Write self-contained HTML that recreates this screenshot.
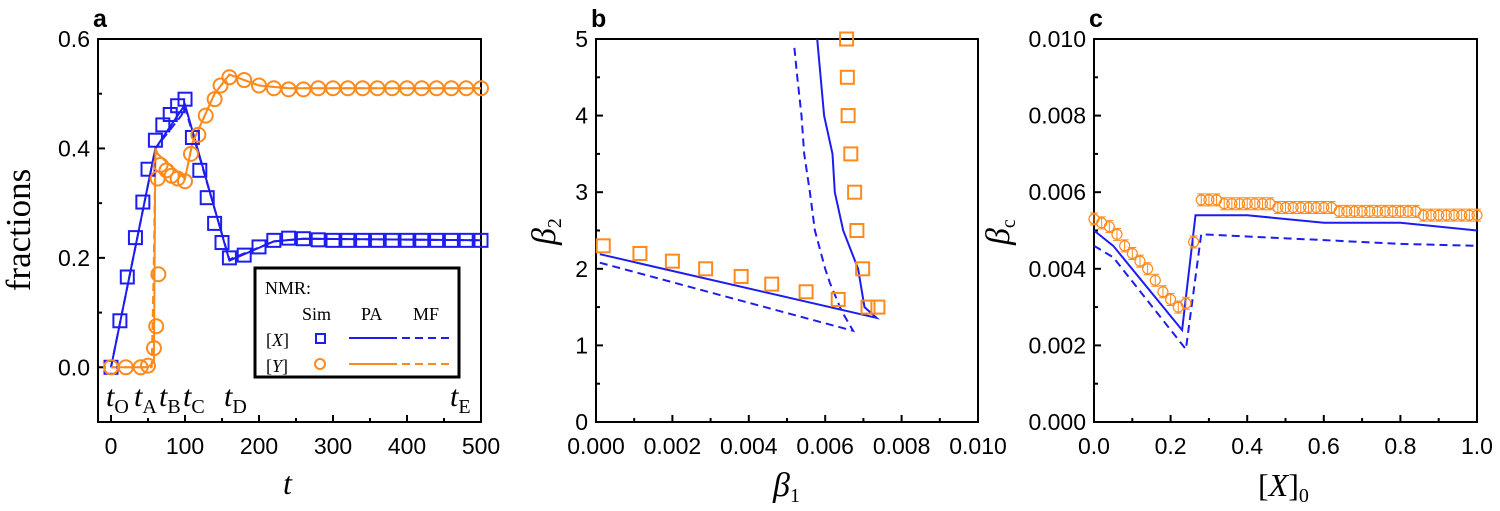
<!DOCTYPE html>
<html><head><meta charset="utf-8"><style>
html,body{margin:0;padding:0;background:#fff;}
svg{display:block;}
.tk{font-family:"Liberation Sans",Arial,sans-serif;fill:#000;}
.ti{font-family:"Liberation Serif","Times New Roman",serif;fill:#000;}
</style></head><body>
<svg id="fig" width="1500" height="511" viewBox="0 0 1500 511" xmlns="http://www.w3.org/2000/svg"></svg>
<script>
// ---- Panel a data ----
const aXSimT=[0,12,22,33,43,50,60,70,80,90,100,110,120,130,140,150,160,180,200,220,240,260,280,300,320,340,360,380,400,420,440,460,480,500];
const aXSimV=[0,0.085,0.165,0.237,0.302,0.362,0.415,0.443,0.462,0.478,0.49,0.42,0.36,0.31,0.263,0.228,0.2,0.205,0.22,0.232,0.236,0.235,0.233,0.232,0.232,0.232,0.232,0.232,0.232,0.232,0.232,0.232,0.232,0.232];
const aYSimT=[0,20,40,50,58,61,63,64,67,75,82,90,100,108,118,128,140,148,160,180,200,220,240,260,280,300,320,340,360,380,400,420,440,460,480,500];
const aYSimV=[0,0,0,0.003,0.035,0.075,0.345,0.17,0.37,0.36,0.35,0.345,0.34,0.39,0.425,0.46,0.49,0.515,0.53,0.525,0.515,0.51,0.508,0.508,0.51,0.51,0.51,0.51,0.51,0.51,0.51,0.51,0.51,0.51,0.51,0.51];
const aXPAT=[0,60,100,160,220,260,500];
const aXPAV=[0,0.4,0.48,0.195,0.23,0.235,0.232];
const aXMFT=[0,60,95,100,160,220,260,500];
const aXMFV=[0,0.4,0.46,0.475,0.197,0.23,0.235,0.232];
const aYPAT=[0,50,58,60,63,100,110,140,160,200,240,500];
const aYPAV=[0,0,0.01,0.4,0.39,0.345,0.41,0.5,0.535,0.515,0.51,0.51];
const aYMFT=[0,55,58,60,63,100,110,140,160,200,240,500];
const aYMFV=[0,0,0.2,0.4,0.39,0.345,0.41,0.5,0.535,0.515,0.51,0.51];
const aYTicks=[0,0.2,0.4,0.6];
const aXTicks=[0,100,200,300,400,500];
// ---- Panel b data ----
const bSimX=[0.00019,0.00115,0.002,0.00287,0.0038,0.0046,0.0055,0.00634,0.00712,0.00738,0.00656,0.00658,0.0066,0.00667,0.00677,0.00683,0.00698];
const bSimY=[2.3,2.2,2.1,2.0,1.9,1.8,1.7,1.6,1.5,1.5,5.0,4.5,4.0,3.5,3.0,2.5,2.0];
const bPAX=[0.0001,0.00734,0.00703,0.00686,0.00647,0.00625,0.00619,0.00597,0.00579];
const bPAY=[2.19,1.36,1.5,2.0,2.5,3.0,3.5,4.0,5.0];
const bMFX=[0.0001,0.00673,0.00643,0.00612,0.006,0.00573,0.0056,0.00545,0.00538,0.00527,0.00518];
const bMFY=[2.08,1.19,1.45,1.82,2.0,2.5,3.0,3.5,4.0,4.5,4.95];
const bYTicks=[0,1,2,3,4,5];
const bXTicks=[0,0.002,0.004,0.006,0.008,0.010];
// ---- Panel c data ----
const cSimX=[0,0.02,0.04,0.06,0.08,0.10,0.12,0.14,0.16,0.18,0.20,0.22,0.24,0.26,0.28,0.30,0.32,0.34,0.36,0.38,0.40,0.42,0.44,0.46,0.48,0.50,0.52,0.54,0.56,0.58,0.60,0.62,0.64,0.66,0.68,0.70,0.72,0.74,0.76,0.78,0.80,0.82,0.84,0.86,0.88,0.90,0.92,0.94,0.96,0.98,1.0];
const cSimY=[0.0053,0.0052,0.0051,0.0049,0.0046,0.0044,0.0042,0.0040,0.0037,0.0034,0.0032,0.0030,0.0031,0.0047,0.0058,0.0058,0.0058,0.0057,0.0057,0.0057,0.0057,0.0057,0.0057,0.0057,0.0056,0.0056,0.0056,0.0056,0.0056,0.0056,0.0056,0.0056,0.0055,0.0055,0.0055,0.0055,0.0055,0.0055,0.0055,0.0055,0.0055,0.0055,0.0055,0.0054,0.0054,0.0054,0.0054,0.0054,0.0054,0.0054,0.0054];
const cPAX=[0,0.05,0.23,0.265,0.4,0.6,0.8,1.0];
const cPAY=[0.005,0.0046,0.0024,0.0054,0.0054,0.0052,0.0052,0.005];
const cMFX=[0,0.05,0.24,0.28,0.6,0.7,0.8,1.0];
const cMFY=[0.0046,0.0043,0.0019,0.0049,0.00475,0.0047,0.00465,0.0046];
const cYTicks=[0,0.002,0.004,0.006,0.008,0.010];
const cXTicks=[0,0.2,0.4,0.6,0.8,1.0];

const NS="http://www.w3.org/2000/svg";
const svg=document.getElementById('fig');
const BLUE="#1d1df0", ORANGE="#ff8a1c";
function mk(tag,attrs,parent){const e=document.createElementNS(NS,tag);for(const k in attrs)e.setAttribute(k,attrs[k]);(parent||svg).appendChild(e);return e;}

function panel(name,L,R,T,B,x0,x1,y0,y1){
  const g=mk('g',{});
  
  
  const sx=v=>L+(v-x0)/(x1-x0)*(R-L);
  const sy=v=>B-(v-y0)/(y1-y0)*(B-T);
  return {g,sx,sy,L,R,T,B};
}
function frame(p,xt,yt,xfmt,yfmt,xMinor,yMinor){
  const r=mk('rect',{x:p.L,y:p.T,width:p.R-p.L,height:p.B-p.T,fill:'none',stroke:'#000','stroke-width':2},p.g);
  
  
  xt.forEach(v=>{const x=p.sx(v);mk('line',{x1:x,x2:x,y1:p.B,y2:p.B-7,stroke:'#000','stroke-width':2},p.g);
    const t=mk('text',{x:x,y:p.B+32,'text-anchor':'middle',class:'tk',style:'font-size:23px'},p.g);t.textContent=xfmt(v);
    
    });
  xMinor.forEach(v=>{const x=p.sx(v);mk('line',{x1:x,x2:x,y1:p.B,y2:p.B-4,stroke:'#000','stroke-width':2},p.g);});
  yt.forEach(v=>{const y=p.sy(v);mk('line',{x1:p.L,x2:p.L+7,y1:y,y2:y,stroke:'#000','stroke-width':2},p.g);
    const t=mk('text',{x:p.L-8,y:y+8,'text-anchor':'end',class:'tk',style:'font-size:23px'},p.g);t.textContent=yfmt(v);
    
    });
  yMinor.forEach(v=>{const y=p.sy(v);mk('line',{x1:p.L,x2:p.L+4,y1:y,y2:y,stroke:'#000','stroke-width':2},p.g);});
}
function line(p,xs,ys,color,dash,name){
  const d=xs.map((x,i)=>(i?'L':'M')+p.sx(x).toFixed(1)+','+p.sy(ys[i]).toFixed(1)).join('');
  const e=mk('path',{d,fill:'none',stroke:color,'stroke-width':2,'stroke-dasharray':dash||'none'},p.g);
  
  
}
function squares(p,xs,ys,color,s,name){
  xs.forEach((x,i)=>{const e=mk('rect',{x:p.sx(x)-s/2,y:p.sy(ys[i])-s/2,width:s,height:s,fill:'none',stroke:color,'stroke-width':2},p.g);
    
    });
}
function circles(p,xs,ys,color,r,name,err){
  xs.forEach((x,i)=>{const cx=p.sx(x),cy=p.sy(ys[i]);
    if(err){mk('path',{d:`M${cx},${cy-6}L${cx},${cy+6}M${cx-4},${cy-6}L${cx+4},${cy-6}M${cx-4},${cy+6}L${cx+4},${cy+6}`,stroke:color,'stroke-width':1,fill:'none'},p.g);}
    const e=mk('circle',{cx,cy,r,fill:'none',stroke:color,'stroke-width':err?1.2:2},p.g);
    
    });
}
function text(x,y,str,cls,size,extra,name){
  const t=mk('text',Object.assign({x,y,class:cls,style:'font-size:'+size+'px'},extra||{}));
  t.innerHTML=str;
  
  
  return t;
}

// Panel a
const pa=panel('panel-a',98,481,39,422,-17.6,500,-0.1,0.6);
frame(pa,aXTicks,aYTicks,v=>String(v),v=>v.toFixed(1),[50,150,250,350,450],[-0.1,0.1,0.3,0.5]);
line(pa,aXMFT,aXMFV,BLUE,'8,5','x-mf-line');
line(pa,aYMFT,aYMFV,ORANGE,'8,5','y-mf-line');
line(pa,aXPAT,aXPAV,BLUE,null,'x-pa-line');
line(pa,aYPAT,aYPAV,ORANGE,null,'y-pa-line');
squares(pa,aXSimT,aXSimV,BLUE,13,'x-sim-marker');
circles(pa,aYSimT,aYSimV,ORANGE,7,'y-sim-marker');
[['O',106],['A',134],['B',159],['C',183],['D',224],['E',450]].forEach(([s,x])=>{
  text(x,406,`<tspan font-style="italic">t</tspan><tspan style="font-size:20px" dy="7">${s}</tspan>`,'ti',30,{},'t-marker-'+s.toLowerCase());
});
// legend
const lg=mk('rect',{x:255,y:268,width:204,height:109,fill:'#fff',stroke:'#000','stroke-width':3});


text(265,294,'NMR:','ti',18,{},'legend-title');
text(302,320,'Sim','ti',18,{},'legend-sim-header');
text(361,320,'PA','ti',18,{},'legend-pa-header');
text(413,320,'MF','ti',18,{},'legend-mf-header');
text(266,346,'[<tspan font-style="italic">X</tspan>]','ti',18,{},'legend-x-label');
text(266,372,'[<tspan font-style="italic">Y</tspan>]','ti',18,{},'legend-y-label');
mk('rect',{x:316,y:334,width:9,height:9,fill:'none',stroke:BLUE,'stroke-width':2});
mk('circle',{cx:320,cy:364,r:5,fill:'none',stroke:ORANGE,'stroke-width':2});
mk('line',{x1:349,x2:397,y1:338,y2:338,stroke:BLUE,'stroke-width':2});
mk('line',{x1:402,x2:450,y1:338,y2:338,stroke:BLUE,'stroke-width':2,'stroke-dasharray':'8,5'});
mk('line',{x1:349,x2:397,y1:364,y2:364,stroke:ORANGE,'stroke-width':2});
mk('line',{x1:402,x2:450,y1:364,y2:364,stroke:ORANGE,'stroke-width':2,'stroke-dasharray':'8,5'});
text(93,27,'a','tk',25,{'font-weight':'bold'},'panel-label-a');
text(283,494,'t','ti',32,{'font-style':'italic'},'x-axis-title-a');
text(0,0,'fractions','ti',35,{transform:'translate(30,230) rotate(-90)','text-anchor':'middle'},'y-axis-title-a');

// Panel b
const pb=panel('panel-b',596,978,39,422,0,0.010,0,5);
frame(pb,bXTicks,bYTicks,v=>v.toFixed(3),v=>String(v),[0.001,0.003,0.005,0.007,0.009],[0.5,1.5,2.5,3.5,4.5]);
line(pb,bPAX,bPAY,BLUE,null,'pa-line');
line(pb,bMFX,bMFY,BLUE,'8,5','mf-line');
squares(pb,bSimX,bSimY,ORANGE,13,'sim-marker');
text(591,27,'b','tk',25,{'font-weight':'bold'},'panel-label-b');
text(773,496,'<tspan font-style="italic">β</tspan><tspan style="font-size:20px" dy="6">1</tspan>','ti',34,{},'x-axis-title-b');
text(0,0,'<tspan font-style="italic">β</tspan><tspan style="font-size:20px" dy="6">2</tspan>','ti',34,{transform:'translate(555,245) rotate(-90)'},'y-axis-title-b');

// Panel c
const pc=panel('panel-c',1094,1477,39,422,0,1,0,0.010);
frame(pc,cXTicks,cYTicks,v=>v.toFixed(1),v=>v.toFixed(3),[0.1,0.3,0.5,0.7,0.9],[0.001,0.003,0.005,0.007,0.009]);
line(pc,cPAX,cPAY,BLUE,null,'pa-line');
line(pc,cMFX,cMFY,BLUE,'8,5','mf-line');
circles(pc,cSimX,cSimY,ORANGE,5,'sim-marker',true);
text(1089,27,'c','tk',25,{'font-weight':'bold'},'panel-label-c');
text(1258,496,'[<tspan font-style="italic">X</tspan>]<tspan style="font-size:20px" dy="6">0</tspan>','ti',32,{},'x-axis-title-c');
text(0,0,'<tspan font-style="italic">β</tspan><tspan style="font-size:20px" dy="6">c</tspan>','ti',34,{transform:'translate(1009,245) rotate(-90)'},'y-axis-title-c');
</script>
</body></html>
